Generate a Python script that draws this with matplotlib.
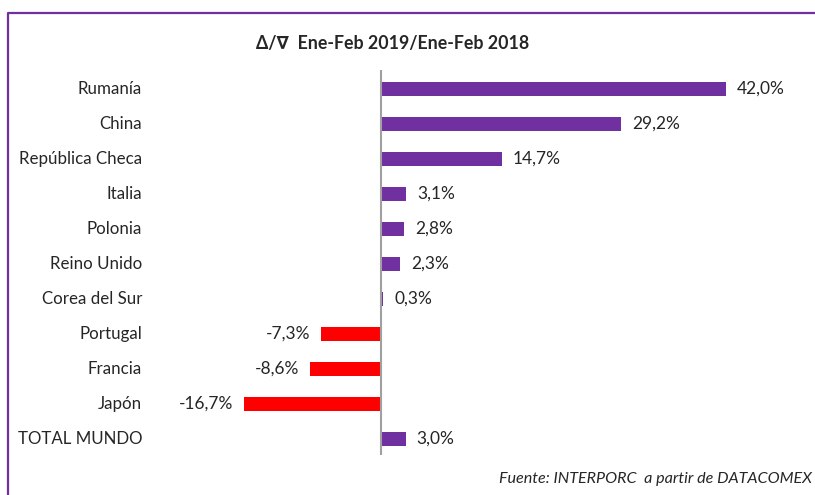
import matplotlib
matplotlib.use('Agg')
import matplotlib.pyplot as plt
from matplotlib.lines import Line2D

plt.rcParams['font.family'] = ['Lato', 'DejaVu Sans']

# variación interanual Ene-Feb 2019 / Ene-Feb 2018 (%)
paises = ['Rumanía', 'China', 'República Checa', 'Italia', 'Polonia',
          'Reino Unido', 'Corea del Sur', 'Portugal', 'Francia', 'Japón',
          'TOTAL MUNDO']
variacion = [42.0, 29.2, 14.7, 3.1, 2.8, 2.3, 0.3, -7.3, -8.6, -16.7, 3.0]

titulo = '\u0394/\u2207  Ene-Feb 2019/Ene-Feb 2018'
fuente = 'Fuente: INTERPORC  a partir de DATACOMEX'

morado = '#7030A0'
rojo = '#FF0000'

W, H = 815, 495
fig = plt.figure(figsize=(W / 100, H / 100), dpi=100)

# axes placed in pixel terms: zero at x=381, 8.21 px per point, rows every 35 px
y0 = 89
left_px, right_px = 150, 800
top_px, bot_px = 60, 460
ax = fig.add_axes([left_px / W, 1 - bot_px / H,
                   (right_px - left_px) / W, (bot_px - top_px) / H])
scale = (726 - 381) / 42.0
ax.set_xlim((left_px - 381) / scale, (right_px - 381) / scale)
ax.set_ylim((bot_px - y0) / 35.0, (top_px - y0) / 35.0)
ax.axis('off')

y = list(range(len(paises)))
colores = [morado if v >= 0 else rojo for v in variacion]
ax.barh(y, variacion, height=0.4, color=colores, zorder=2)
ax.vlines(0, -0.55, 10.47, color='#a0a0a0', lw=1.5, zorder=3)

off = 11 / scale
for yi, v in zip(y, variacion):
    txt = f'{v:.1f}%'.replace('.', ',')
    if v >= 0:
        ax.text(v + off, yi, txt, ha='left', va='center', fontsize=12.5, color='#262626')
    else:
        ax.text(v - off, yi, txt, ha='right', va='center', fontsize=12.5, color='#262626')

for yi, p in zip(y, paises):
    fig.text(142 / W, 1 - (y0 + 35 * yi) / H, p, ha='right', va='center',
             fontsize=12.2, color='#262626')

fig.text(393 / W, 1 - 44 / H, titulo, ha='center', va='center',
         fontsize=12.8, fontweight='bold', color='#262626')
fig.text(812 / W, 1 - 479 / H, fuente, ha='right', va='center',
         fontsize=11.6, style='italic', color='#262626')

# marco morado (superior e izquierdo)
fig.add_artist(Line2D([7.5 / W, 7.5 / W, 1], [0, 1 - 12.5 / H, 1 - 12.5 / H],
                      transform=fig.transFigure, color=morado, lw=1.6))

fig.savefig('out.png', dpi=100)
